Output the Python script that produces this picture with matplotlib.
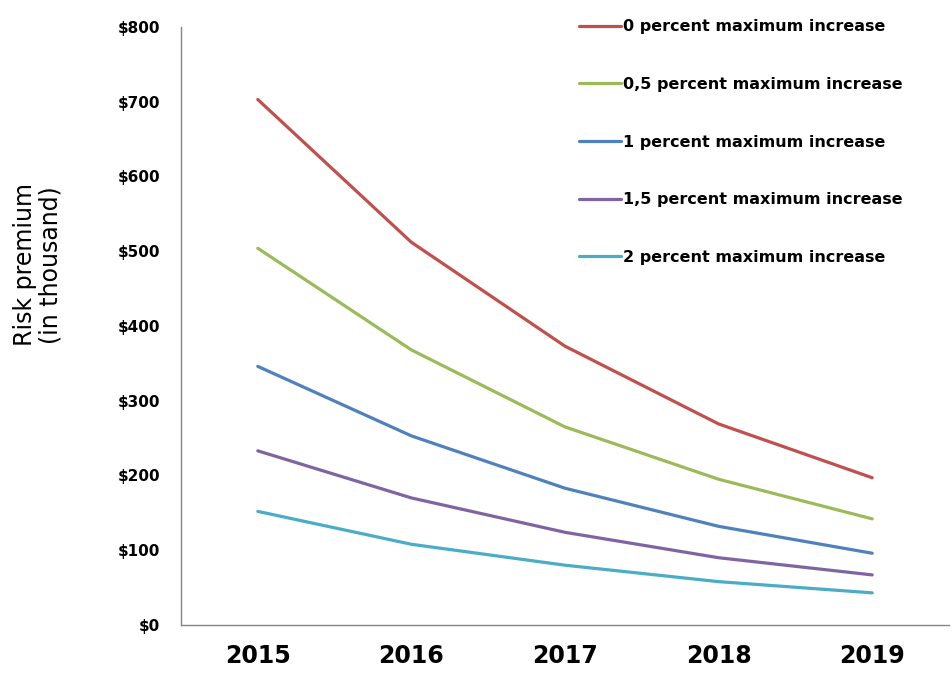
import matplotlib
matplotlib.use("Agg")
import matplotlib.pyplot as plt
from matplotlib.ticker import FuncFormatter

years = ["2015", "2016", "2017", "2018", "2019"]
series_names = ["0 percent maximum increase", "0,5 percent maximum increase",
                "1 percent maximum increase", "1,5 percent maximum increase",
                "2 percent maximum increase"]
s0 = [703, 512, 373, 269, 197]
s05 = [504, 368, 265, 195, 142]
s1 = [346, 253, 183, 132, 96]
s15 = [233, 170, 124, 90, 67]
s2 = [152, 108, 80, 58, 43]
colors = ["#C0504D", "#9BBB59", "#4F81BD", "#8064A2", "#4BACC6"]

plt.rcParams['font.family'] = ['DejaVu Sans']

fig = plt.figure(figsize=(9.52, 6.75), dpi=100)
ax = fig.add_axes([181/952, 50/675, (949-181)/952, (625-27)/675])

x = list(range(len(years)))
for vals, name, c in zip([s0, s05, s1, s15, s2], series_names, colors):
    ax.plot(x, vals, color=c, lw=2.3, label=name, solid_capstyle='round')

ax.set_xlim(-0.5, 4.5)
ax.set_ylim(0, 800)
ax.set_yticks(range(0, 801, 100))
ax.yaxis.set_major_formatter(FuncFormatter(lambda v, p: f"${int(v)}"))
ax.set_xticks(x)
ax.set_xticklabels(years)
ax.tick_params(axis='y', length=0, pad=15, labelsize=11)
ax.tick_params(axis='x', length=0, pad=14, labelsize=17)
for lab in ax.get_xticklabels() + ax.get_yticklabels():
    lab.set_fontweight('bold')
for s in ['top', 'right']:
    ax.spines[s].set_visible(False)
for s in ['left', 'bottom']:
    ax.spines[s].set_color('#868686')
    ax.spines[s].set_linewidth(1.0)

fig.text(38/952, 1 - 265/675, "Risk premium\n(in thousand)", rotation=90,
         ha='center', va='center', fontsize=17, linespacing=1.1)

leg = ax.legend(loc='upper left', bbox_to_anchor=(573/952, 1 - 13/675),
                bbox_transform=fig.transFigure, frameon=False,
                prop={'weight': 'bold', 'size': 11.5}, handlelength=2.6,
                handletextpad=0.15, labelspacing=2.67, borderaxespad=0)

fig.savefig("out.png", dpi=100)
